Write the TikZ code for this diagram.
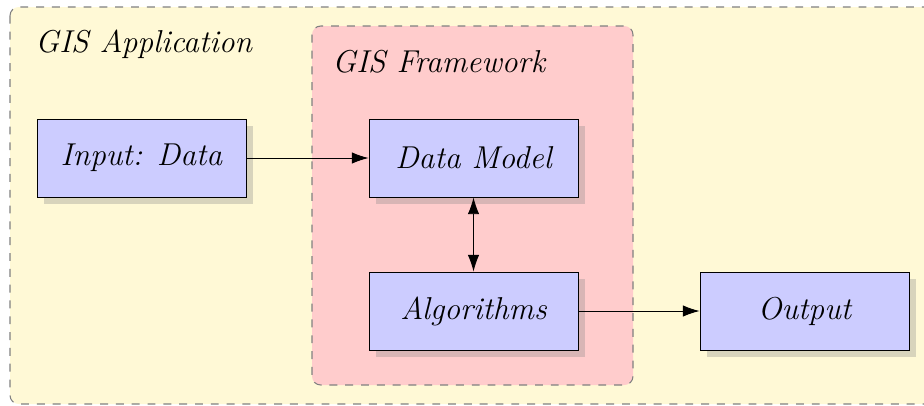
\documentclass[tikz,border=0pt]{standalone}
\usetikzlibrary{shadows, arrows.meta}

\definecolor{appbg}{RGB}{255,249,214}
\definecolor{fwbg}{RGB}{255,204,204}
\definecolor{boxbg}{RGB}{204,204,255}

\tikzset{
    bigfont/.style={font=\fontsize{18}{22}\selectfont\itshape},
    block/.style={draw, line width=0.5pt, fill=boxbg, minimum width=4.18cm, minimum height=1.56cm,
        bigfont, drop shadow={shadow xshift=0.14cm, shadow yshift=-0.14cm, opacity=0.3}},
    area/.style={draw=gray, line width=0.6pt, dash pattern=on 4.5pt off 4.5pt, rounded corners=5pt},
    tag/.style={anchor=base west, inner sep=0pt, bigfont},
    tip/.tip={Latex[length=9.5pt, width=6.5pt]},
    link/.style={line width=0.5pt, -tip},
    both/.style={line width=0.5pt, tip-tip}
}

\begin{document}
\begin{tikzpicture}
    \useasboundingbox (0, 0) rectangle (18.48, -8.1);

    % Areas
    \draw[area, fill=appbg] (0.2, -0.14) rectangle (18.9, -8.08);
    \node[tag] (app) at (0.7, -1.04) {GIS Application};
    \draw[area, fill=fwbg] (6.24, -0.52) rectangle (12.66, -7.7);
    \node[tag] (fw) at (6.64, -1.44) {GIS Framework};

    % Nodes
    \node[block] (input) at (2.83, -3.16) {Input: Data};
    \node[block] (model) at (9.47, -3.16) {Data Model};
    \node[block] (algo) at (9.47, -6.22) {Algorithms};
    \node[block] (output) at (16.09, -6.22) {Output};

    % Edges
    \draw[link] (input) -- (model);
    \draw[both] (model) -- (algo);
    \draw[link] (algo) -- (output);
\end{tikzpicture}
\end{document}
